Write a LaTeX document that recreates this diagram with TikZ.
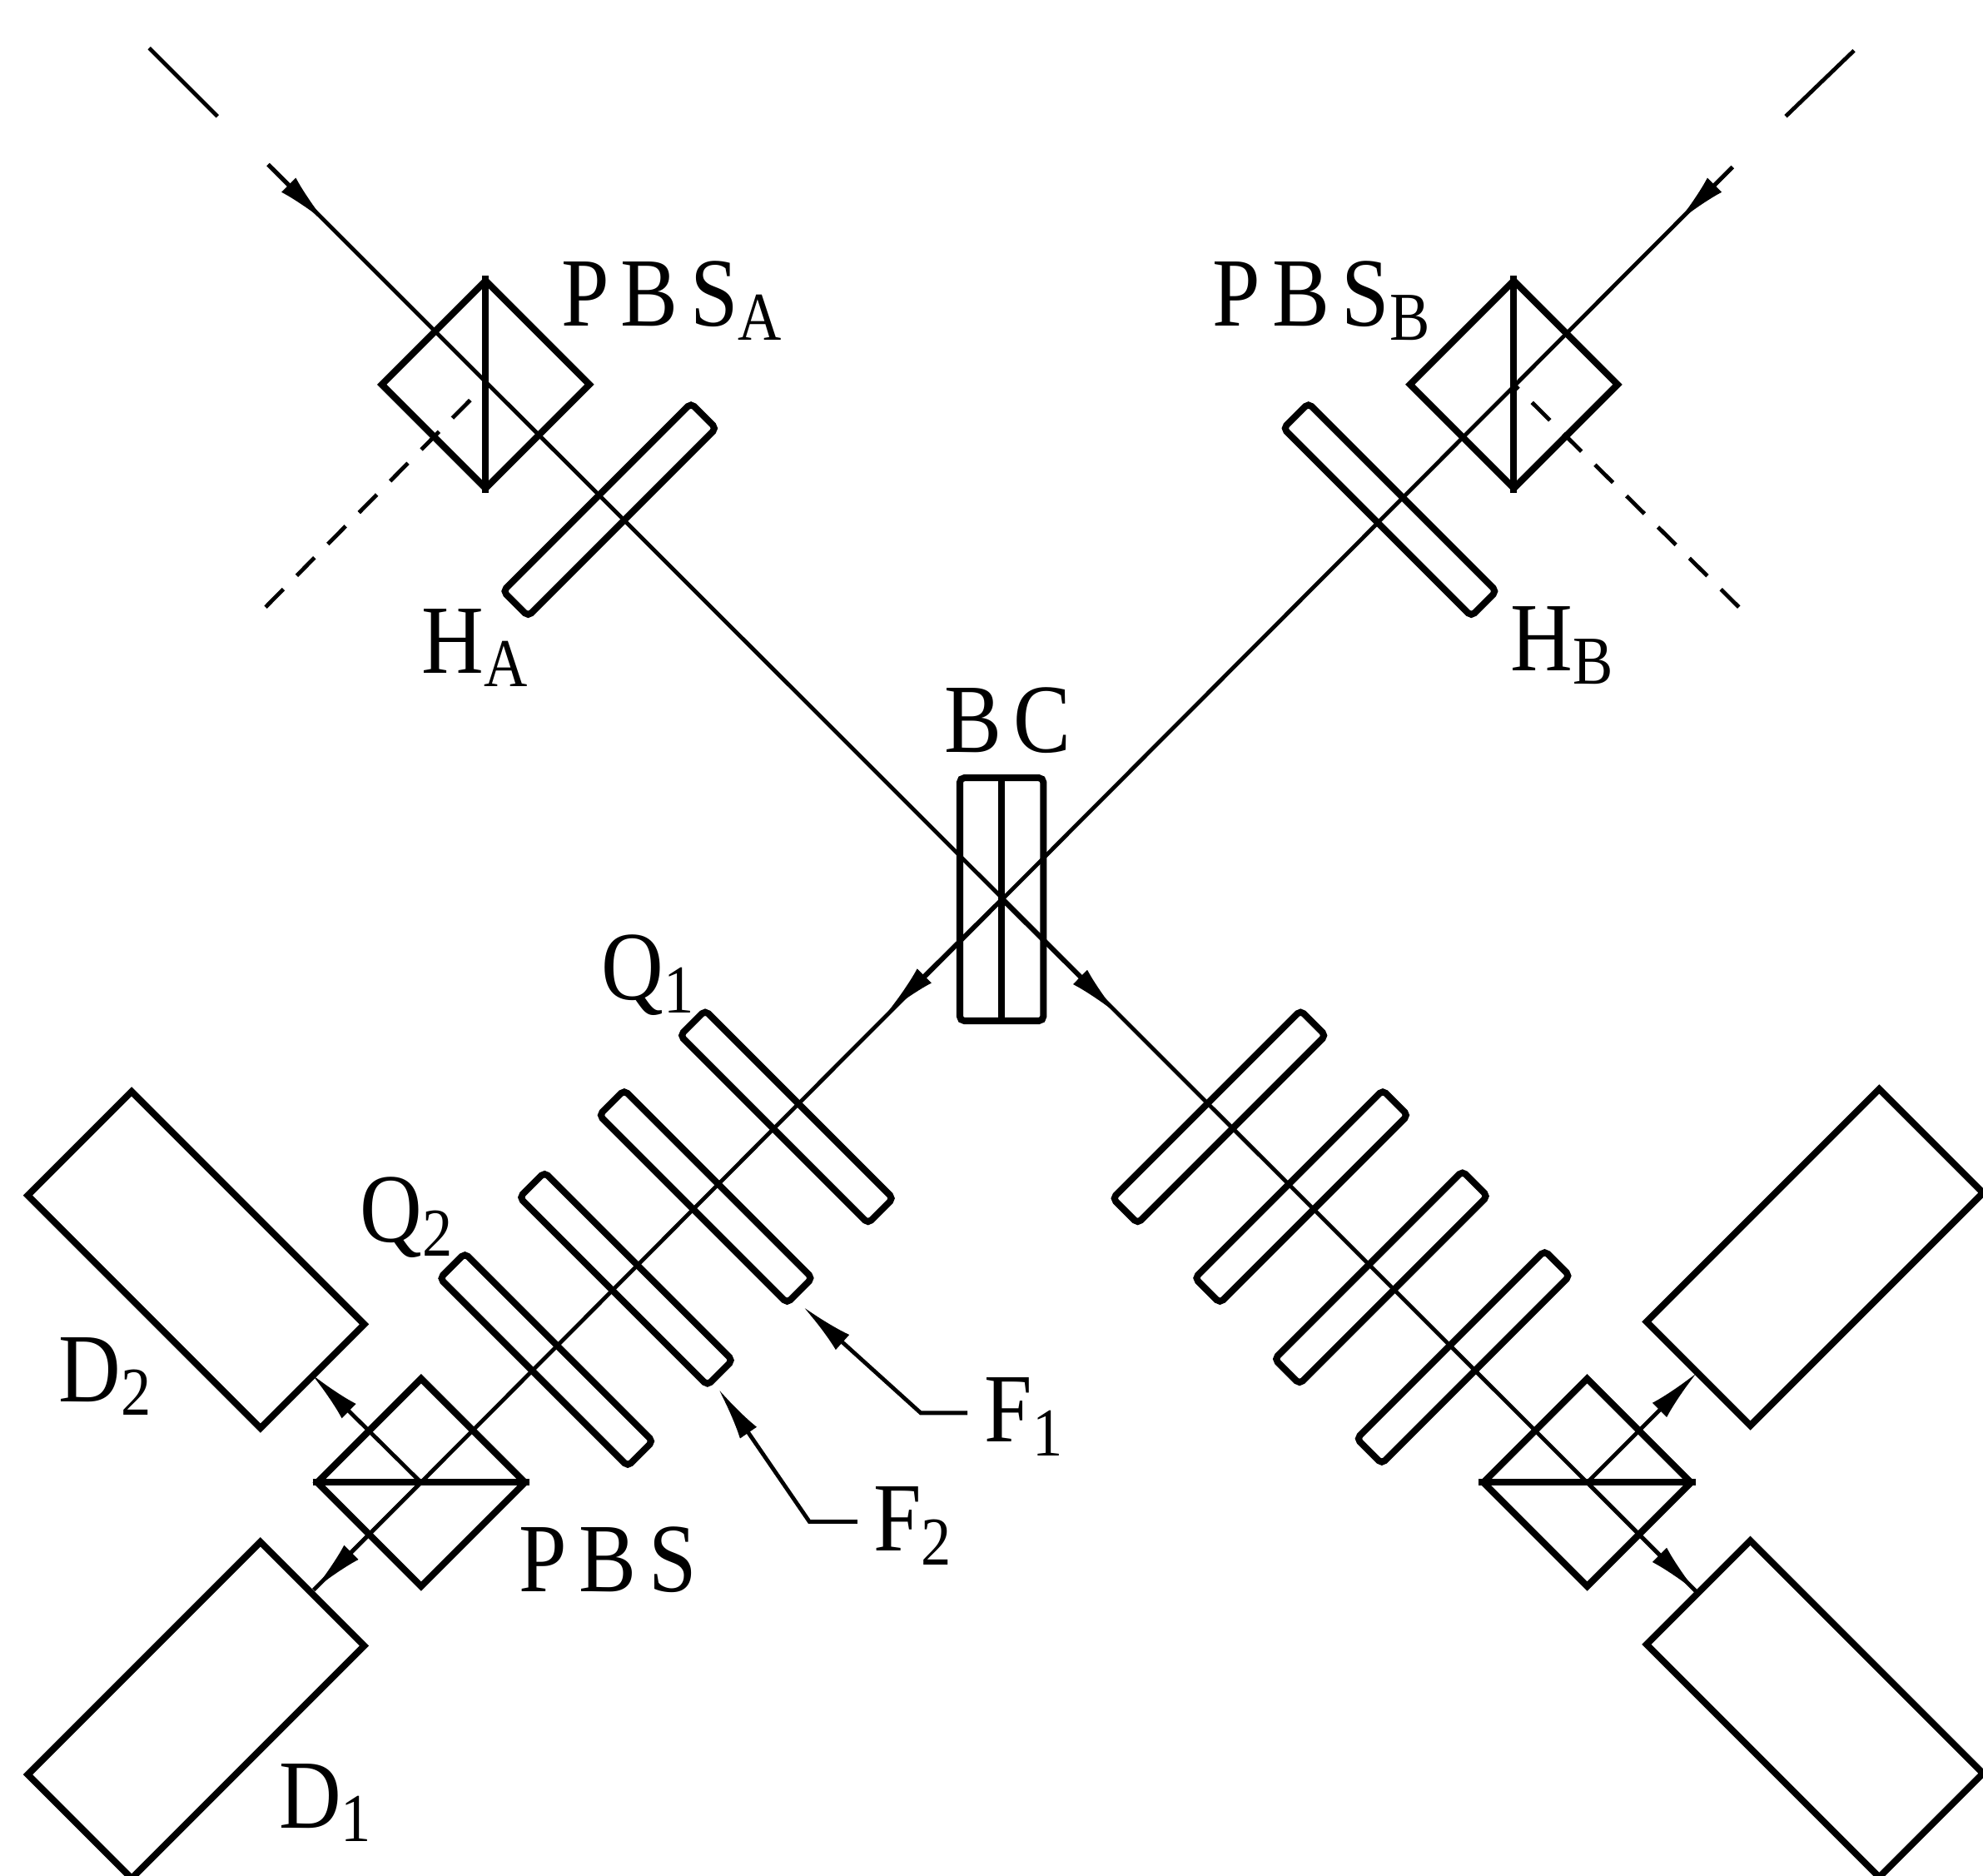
\documentclass[tikz,border=0pt]{standalone}
\usepackage{fontspec}
\setmainfont[FakeStretch=.88]{Liberation Serif}
\usetikzlibrary{arrows.meta}

\begin{document}
\begin{tikzpicture}
	[x=.01cm,y=-.01cm,
	plate/.style={shape=rectangle,draw,line width=1.5pt,rounded corners=1pt,rotate=45,minimum width=2.1cm,minimum height=.28cm,inner sep=0pt},
	cube/.style={shape=rectangle,draw,line width=1.5pt,rotate=45,minimum width=1.16cm,minimum height=1.16cm,inner sep=0pt},
	detector/.style={shape=rectangle,draw,line width=1.5pt,rotate=45,minimum width=2.6cm,minimum height=1.16cm,inner sep=0pt},
	ray/.style={line width=.9pt},
	tip/.style={-{Latex[length=.42cm,width=.16cm]},line width=.9pt},
	split/.style={line width=1.5pt},
	idler/.style={line width=.9pt,dash pattern=on .2cm off .15cm},
	tag/.style={font=\fontsize{22pt}{22pt}\selectfont,inner sep=0pt,anchor=base west}
	]
	\useasboundingbox (0,0) rectangle (1568,1483);

	% rays
	\coordinate (srcA) at (212,130);
	\coordinate (srcB) at (1370,132);
	\coordinate (arrA) at (258,176);
	\coordinate (arrB) at (1326,176);
	\coordinate (arrC) at (701,801);
	\coordinate (arrD) at (884,802);
	\coordinate (endA) at (1342,1259);
	\coordinate (endB) at (248,1257);
	\coordinate (endC) at (246,1086);
	\coordinate (endD) at (1342,1085);
	\coordinate (dashA) at (210,480);
	\coordinate (dashB) at (1375,480);
	\coordinate (farA1) at (118,38);
	\coordinate (farA2) at (172,92);
	\coordinate (farB1) at (1466,40);
	\coordinate (farB2) at (1412,92);
	\coordinate (stubF1) at (765,1117);
	\coordinate (armF1) at (728,1117);
	\coordinate (tipF1) at (635,1033);
	\coordinate (stubF2) at (678,1203);
	\coordinate (armF2) at (640,1203);
	\coordinate (tipF2) at (568,1098);

	% optical parts
	\node [cube] (PBSA) at (384,304) {};
	\node [cube] (PBSB) at (1197,304) {};
	\node [plate] (HA) at (482,403) {};
	\node [plate,rotate=-90] (HB) at (1099,403) {};
	\node [shape=rectangle,draw,line width=1.5pt,rounded corners=1pt,minimum width=.66cm,minimum height=1.92cm,inner sep=0pt] (BC) at (792,711) {};

	\node [plate,rotate=-90] (Q1) at (622,883) {};
	\node [plate,rotate=-90] (F1) at (558,946) {};
	\node [plate,rotate=-90] (F2) at (495,1011) {};
	\node [plate,rotate=-90] (Q2) at (432,1075) {};
	\node [cube] (PBSL) at (333,1172) {};
	\node [detector,rotate=-90] (D2) at (155,996) {};
	\node [detector] (D1) at (155,1352) {};

	\node [plate] (Q3) at (964,883) {};
	\node [plate] (F3) at (1029,946) {};
	\node [plate] (F4) at (1092,1010) {};
	\node [plate] (Q4) at (1157,1073) {};
	\node [cube] (PBSR) at (1255,1172) {};
	\node [detector] (D3) at (1435,994) {};
	\node [detector,rotate=-90] (D4) at (1435,1351) {};

	% cube diagonals and the line in BC
	\draw [split] (PBSA.south west) -- (PBSA.north east);
	\draw [split] (PBSB.south west) -- (PBSB.north east);
	\draw [split] (PBSL.north west) -- (PBSL.south east);
	\draw [split] (PBSR.north west) -- (PBSR.south east);
	\draw [split] (BC.north) -- (BC.south);

	\draw [ray] (srcA) -- (endA);
	\draw [ray] (srcB) -- (endB);
	\draw [tip] (srcA) -- (arrA);
	\draw [tip] (srcB) -- (arrB);
	\draw [tip] (BC.center) -- (arrC);
	\draw [tip] (BC.center) -- (arrD);
	\draw [tip] (PBSL.center) -- (endB);
	\draw [tip] (PBSR.center) -- (endA);
	\draw [tip] (PBSL.center) -- (endC);
	\draw [tip] (PBSR.center) -- (endD);
	\draw [idler] (dashA) -- (PBSA.center);
	\draw [idler] (dashB) -- (PBSB.center);
	\draw [ray] (farA1) -- (farA2);
	\draw [ray] (farB1) -- (farB2);

	% labels
	\node [tag] (tPBSA) at (443,258) {P\kern2.7pt B\kern2.7pt S\textsubscript{A}};
	\node [tag] (tPBSB) at (958,258) {P\kern2.7pt B\kern2.7pt S\textsubscript{B}};
	\node [tag] (tHA) at (333,532) {H\textsubscript{A}};
	\node [tag] (tHB) at (1194,530) {H\textsubscript{B}};
	\node [tag] (tBC) at (746,595) {B\kern2.7pt C};
	\node [tag] (tQ1) at (475,790) {Q\textsubscript{1}};
	\node [tag] (tQ2) at (284,982) {Q\textsubscript{2}};
	\node [tag] (tD2) at (46,1108) {D\textsubscript{2}};
	\node [tag] (tD1) at (220,1445) {D\textsubscript{1}};
	\node [tag] (tF1) at (778,1140) {F\textsubscript{1}};
	\node [tag] (tF2) at (690,1226) {F\textsubscript{2}};
	\node [tag] (tPBS) at (410,1258) {P\kern2.7pt B\kern2.7pt S};

	\draw [tip] (stubF1) -- (armF1) -- (tipF1);
	\draw [tip] (stubF2) -- (armF2) -- (tipF2);
\end{tikzpicture}
\end{document}
